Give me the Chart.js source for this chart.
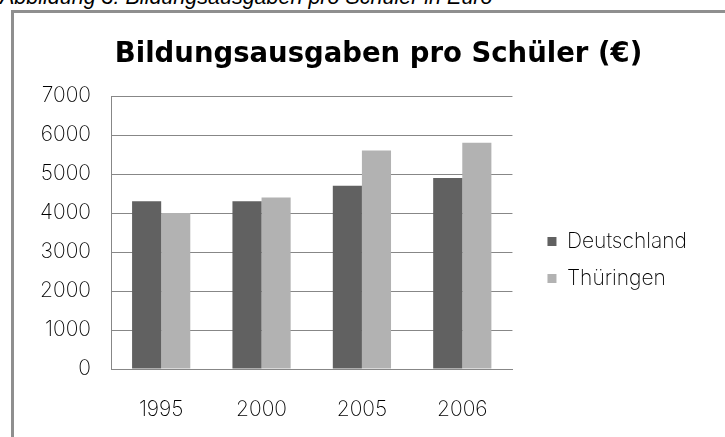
<!DOCTYPE html>
<html>
<head>
<meta charset="utf-8">
<script src="https://cdn.jsdelivr.net/npm/chart.js@4.4.1/dist/chart.umd.min.js"></script>
<style>
  html, body { margin: 0; padding: 0; background: #fff; overflow: hidden; }
  body { width: 725px; height: 437px; position: relative; }
  #caption { position: absolute; left: 0; top: -13px; font: italic 21.5px 'Liberation Sans', Arial, sans-serif; line-height: 20px; color: #000; white-space: nowrap; }
  #frame { position: absolute; left: 11px; top: 10px; width: 800px; height: 500px; border-left: 3px solid #8f8f8f; border-top: 3px solid #8f8f8f; }
  #wrap { position: absolute; left: 14px; top: 13px; width: 711px; height: 424px; }
</style>
</head>
<body>
<div id="caption">Abbildung 3: Bildungsausgaben pro Schüler in Euro</div>
<div id="frame"></div>
<div id="wrap"><canvas id="c" width="711" height="424"></canvas></div>
<script>
const titleText = 'Bildungsausgaben pro Schüler (€)';
const categories = ['1995', '2000', '2005', '2006'];
const seriesNames = ['Deutschland', 'Thüringen'];
const deutschland = [4300, 4300, 4700, 4900];
const thueringen = [4000, 4400, 5600, 5800];
const yTicks = [0, 1000, 2000, 3000, 4000, 5000, 6000, 7000];

const lightFont = "Inter, Lato, 'DejaVu Sans', sans-serif";
const lightWeight = '150';
const textColor = '#000';
const gridColor = '#878787';
const titleShift = 13;

const titleShiftPlugin = {
  id: 'titleShift',
  afterLayout(chart) {
    const t = chart.titleBlock;
    if (t) { t.left += titleShift; t.right += titleShift; }
  }
};

new Chart(document.getElementById('c'), {
  type: 'bar',
  data: {
    labels: categories,
    datasets: [
      { label: seriesNames[0], data: deutschland, backgroundColor: '#616161', borderWidth: 0, categoryPercentage: 0.58, barPercentage: 1.0, yAxisID: 'y' },
      { label: seriesNames[1], data: thueringen, backgroundColor: '#b2b2b2', borderWidth: 0, categoryPercentage: 0.58, barPercentage: 1.0, yAxisID: 'y' }
    ]
  },
  plugins: [titleShiftPlugin],
  options: {
    responsive: false,
    animation: false,
    devicePixelRatio: 1,
    layout: { padding: { left: 20, right: 28, top: 0, bottom: 0 } },
    plugins: {
      tooltip: { enabled: false },
      title: {
        display: true,
        text: titleText,
        color: '#000',
        font: { family: "'DejaVu Sans', sans-serif", weight: 'bold', size: 27.5 },
        padding: { top: 25, bottom: 25 }
      },
      legend: {
        display: true,
        position: 'right',
        align: 'center',
        maxWidth: 400,
        title: { display: true, text: '', font: { size: 10 }, padding: { top: 29, bottom: 29 } },
        labels: {
          boxWidth: 9,
          boxHeight: 9,
          padding: 16,
          color: textColor,
          font: { family: lightFont, weight: lightWeight, size: 21 }
        }
      }
    },
    scales: {
      x: {
        grid: { display: false },
        border: { display: true, color: gridColor, width: 1 },
        ticks: { color: textColor, padding: 20, font: { family: lightFont, weight: lightWeight, size: 21 } },
        afterFit: s => { s.height = 68; }
      },
      y: {
        min: 0, max: 7000,
        afterBuildTicks: s => { s.ticks = yTicks.map(v => ({ value: v })); },
        grid: { color: gridColor, lineWidth: 1, drawTicks: false },
        border: { display: true, color: gridColor, width: 1 },
        ticks: { color: textColor, padding: 20, callback: v => String(v), font: { family: lightFont, weight: lightWeight, size: 21 } },
        afterFit: s => { s.width = 77; }
      },
      y2: {
        position: 'right',
        display: true,
        grid: { display: false, drawTicks: false },
        border: { display: false },
        ticks: { display: false },
        afterFit: s => { s.width = 19; }
      }
    }
  }
});
</script>
</body>
</html>
